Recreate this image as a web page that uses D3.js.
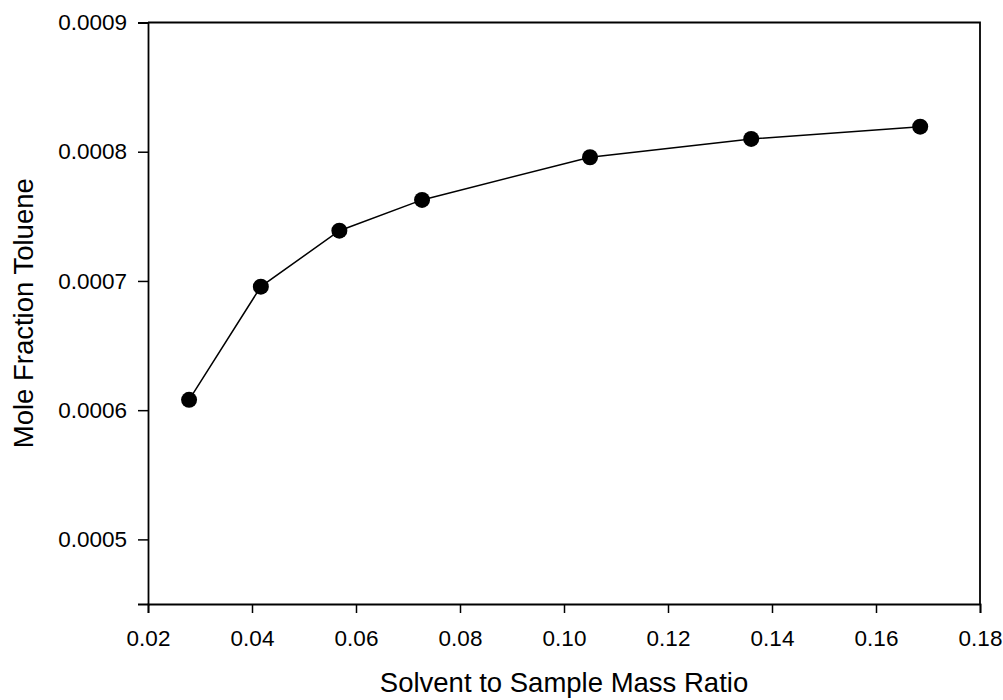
<!DOCTYPE html>
<html>
<head>
<meta charset="utf-8">
<script src="https://cdn.jsdelivr.net/npm/d3@7"></script>
<style>
    body { margin: 0; background: #fff; }
    svg text { font-family: "Liberation Sans", Arial, Helvetica, sans-serif; fill: #000; }
</style>
</head>
<body>
<svg id="chart" width="1003" height="700"></svg>
<script>
// solvent to sample mass ratio
var ratio = [0.0279, 0.0417, 0.0568, 0.0727, 0.1050, 0.1360, 0.1685];
// mole fraction toluene
var moleFrac = [0.000608, 0.0006956, 0.0007389, 0.0007627, 0.0007957, 0.0008099, 0.0008194];
var xTicks = [0.02, 0.04, 0.06, 0.08, 0.10, 0.12, 0.14, 0.16, 0.18];
var yTicks = [0.0005, 0.0006, 0.0007, 0.0008, 0.0009];
var xTitle = "Solvent to Sample Mass Ratio",
    yTitle = "Mole Fraction Toluene";

var plotLeft = 148,
    plotRight = 980,
    plotTop = 22.5,
    plotBottom = 604,
    tickFont = 22.5,
    titleFont = 27.5;

var svg = d3.select("#chart");

var x = d3.scaleLinear().domain([0.02, 0.18]).range([plotLeft, plotRight]);
var y = d3.scaleLinear().domain([0.00045, 0.0009]).range([plotBottom, plotTop]);

var points = ratio.map(function(d, i) { return { x: d, y: moleFrac[i] }; });

// frame (top + right)
svg.append("path")
    .attr("d", "M" + plotLeft + "," + plotTop + "H" + plotRight + "V" + plotBottom)
    .attr("fill", "none")
    .attr("stroke", "#000")
    .attr("stroke-width", 1.8);

var xAxis = svg.append("g")
    .attr("transform", "translate(0," + plotBottom + ")")
    .call(d3.axisBottom(x).tickValues(xTicks).tickSize(9).tickPadding(17)
        .tickFormat(d3.format(".2f")));

var yAxis = svg.append("g")
    .attr("transform", "translate(" + plotLeft + ",0)")
    .call(d3.axisLeft(y).tickValues(yTicks).tickSize(10).tickPadding(11)
        .tickFormat(d3.format(".4f")));

[xAxis, yAxis].forEach(function(g) {
    g.select(".domain").attr("stroke-width", 1.8);
    g.selectAll(".tick line").attr("stroke-width", 1.5);
    g.selectAll(".tick text")
        .attr("font-size", tickFont + "px")
        .style("font-family", "'Liberation Sans', Arial, sans-serif");
});

var line = d3.line()
    .x(function(d) { return x(d.x); })
    .y(function(d) { return y(d.y); });

svg.append("path")
    .datum(points)
    .attr("d", line)
    .attr("fill", "none")
    .attr("stroke", "#000")
    .attr("stroke-width", 1.5);

svg.selectAll("circle")
    .data(points)
    .enter()
    .append("circle")
    .attr("cx", function(d) { return x(d.x); })
    .attr("cy", function(d) { return y(d.y); })
    .attr("r", 8)
    .attr("fill", "#000");

svg.append("text")
    .attr("x", (plotLeft + plotRight) / 2)
    .attr("y", 692)
    .attr("text-anchor", "middle")
    .attr("font-size", titleFont + "px")
    .text(xTitle);

svg.append("text")
    .attr("transform", "translate(33," + (plotTop + plotBottom) / 2 + ") rotate(-90)")
    .attr("text-anchor", "middle")
    .attr("font-size", titleFont + "px")
    .text(yTitle);
</script>
</body>
</html>
